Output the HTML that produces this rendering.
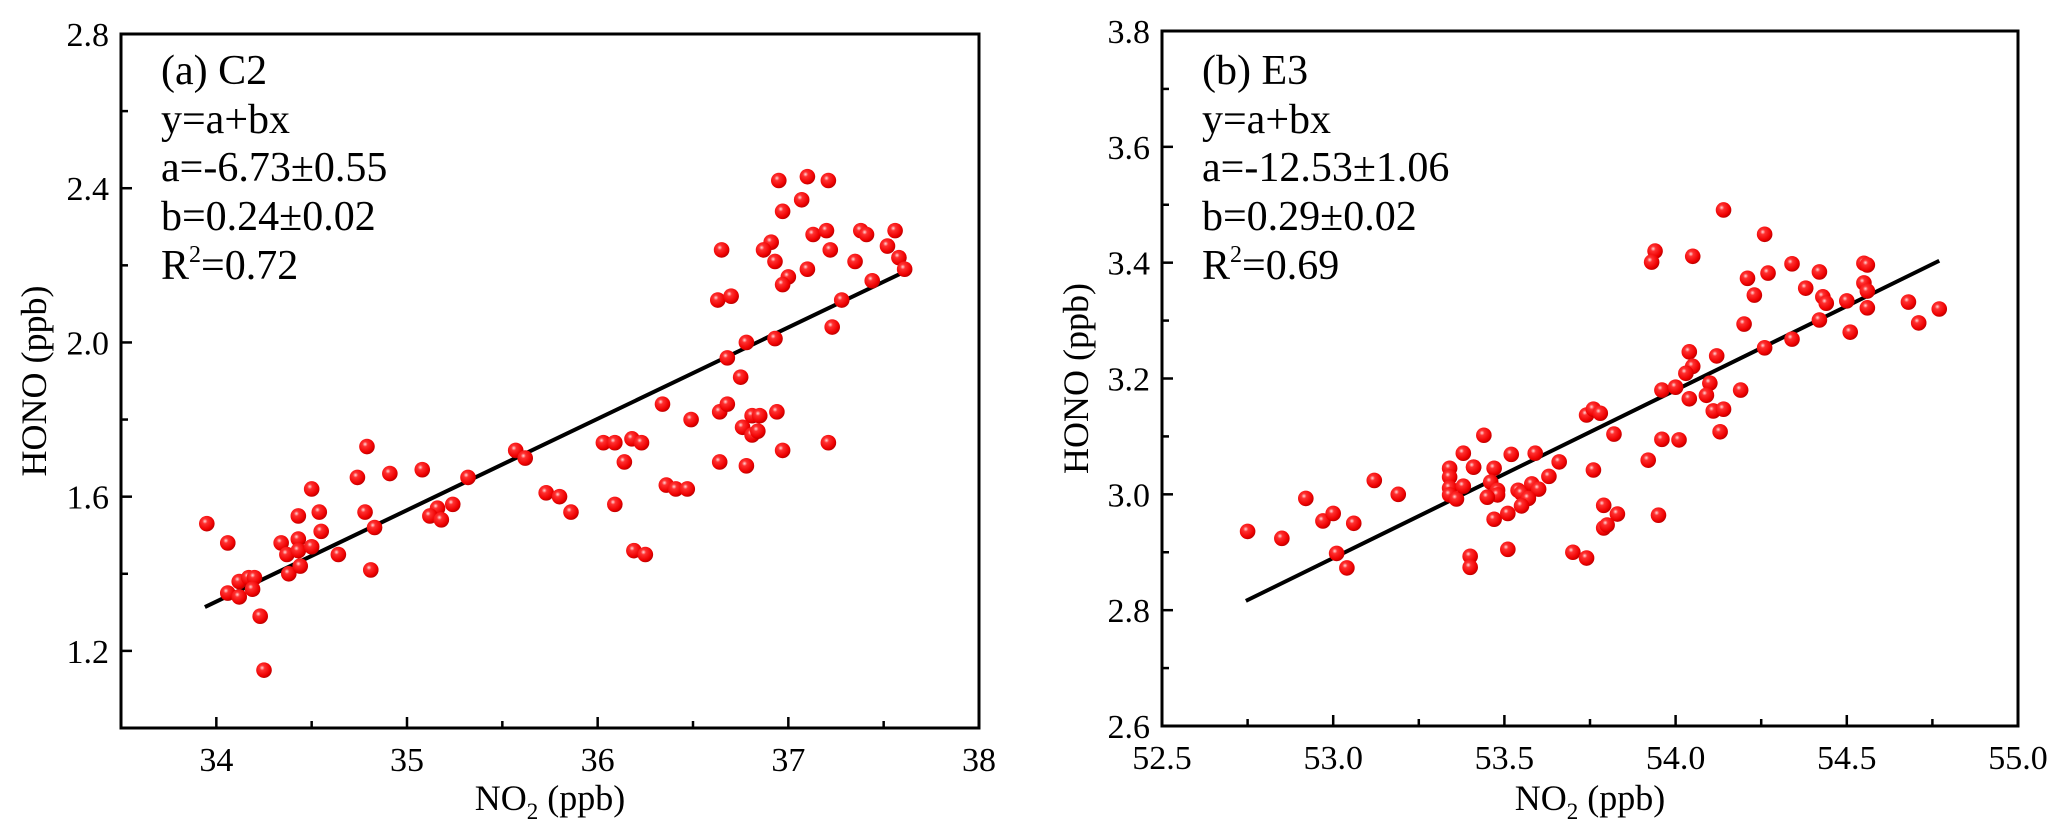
<!DOCTYPE html>
<html><head><meta charset="utf-8"><style>
html,body{margin:0;padding:0;background:#fff;}
svg{display:block;font-family:"Liberation Serif",serif;}
</style></head>
<body>
<svg id="chart" width="2067" height="840" viewBox="0 0 2067 840" xmlns="http://www.w3.org/2000/svg">
<defs>
<radialGradient id="ball" cx="0.38" cy="0.35" r="0.65">
<stop offset="0" stop-color="#ffd8d8"/><stop offset="0.25" stop-color="#ff3030"/><stop offset="0.8" stop-color="#ee0000"/><stop offset="1" stop-color="#c00000"/>
</radialGradient>
</defs>
<g id="panelA"></g>
<g id="panelB"></g>
</svg>
<script>
const NS="http://www.w3.org/2000/svg";
// Panel A data
const aNO2=[33.95,34.06,34.06,34.12,34.12,34.17,34.20,34.19,34.23,34.25,34.34,34.37,34.43,34.43,34.50,34.43,34.50,34.54,34.55,34.38,34.44,34.64,34.74,34.79,34.78,34.81,34.83,34.91,35.08,35.16,35.12,35.18,35.24,35.32,35.57,35.62,35.73,35.80,35.86,36.03,36.09,36.14,36.18,36.23,36.09,36.19,36.25,36.36,36.41,36.47,36.34,36.49,36.64,36.68,36.64,36.65,36.63,36.70,36.68,36.75,36.95,37.10,37.21,37.07,36.97,36.91,36.87,36.93,37.00,36.97,37.10,37.13,37.20,37.22,37.38,37.41,37.35,37.56,37.52,37.58,37.61,37.44,37.28,37.23,36.93,36.78,36.94,36.81,36.85,36.76,36.81,36.84,36.97,37.21,36.78];
const aHONO=[1.53,1.48,1.35,1.38,1.34,1.39,1.39,1.36,1.29,1.15,1.48,1.45,1.49,1.46,1.47,1.55,1.62,1.56,1.51,1.40,1.42,1.45,1.65,1.73,1.56,1.41,1.52,1.66,1.67,1.57,1.55,1.54,1.58,1.65,1.72,1.70,1.61,1.60,1.56,1.74,1.74,1.69,1.75,1.74,1.58,1.46,1.45,1.63,1.62,1.62,1.84,1.80,1.82,1.84,1.69,2.24,2.11,2.12,1.96,1.91,2.42,2.43,2.42,2.37,2.34,2.26,2.24,2.21,2.17,2.15,2.19,2.28,2.29,2.24,2.29,2.28,2.21,2.29,2.25,2.22,2.19,2.16,2.11,2.04,2.01,2.00,1.82,1.81,1.81,1.78,1.76,1.77,1.72,1.74,1.68];
const aXTicks=["34","35","36","37","38"];
const aYTicks=["1.2","1.6","2.0","2.4","2.8"];
const aFit=[-6.73,0.237,33.94,37.61];
const aText=["(a) C2","y=a+bx","a=-6.73±0.55","b=0.24±0.02","R2=0.72"];
// Panel B data
const bNO2=[52.75,52.85,52.92,52.97,53.00,53.06,53.01,53.04,53.12,53.19,53.34,53.34,53.34,53.34,53.36,53.38,53.38,53.41,53.41,53.44,53.47,53.46,53.48,53.48,53.45,53.47,53.51,53.52,53.59,53.54,53.55,53.58,53.60,53.57,53.55,53.63,53.66,53.40,53.40,53.51,53.70,53.74,53.74,53.76,53.78,53.82,53.76,53.79,53.83,53.79,53.80,53.92,53.95,53.96,53.96,54.14,54.26,53.94,53.93,54.05,54.21,54.27,54.23,54.34,54.42,54.38,54.43,54.44,54.50,54.55,54.56,54.55,54.56,54.56,54.68,54.77,54.71,54.51,54.42,54.34,54.20,54.26,54.12,54.04,54.05,54.03,54.00,54.10,54.09,54.19,54.04,54.11,54.14,54.13,54.01];
const bHONO=[2.936,2.924,2.993,2.954,2.967,2.950,2.898,2.873,3.024,3.000,3.045,3.030,3.011,2.999,2.992,3.014,3.071,3.047,3.047,3.102,3.045,3.021,3.007,2.999,2.995,2.957,2.967,3.069,3.071,3.007,3.002,3.018,3.009,2.993,2.980,3.031,3.056,2.893,2.874,2.905,2.900,2.890,3.137,3.147,3.140,3.104,3.042,2.981,2.966,2.942,2.947,3.059,2.964,3.180,3.095,3.491,3.449,3.420,3.401,3.411,3.373,3.382,3.344,3.398,3.384,3.356,3.341,3.330,3.334,3.399,3.396,3.365,3.351,3.322,3.332,3.320,3.296,3.280,3.301,3.268,3.294,3.253,3.239,3.246,3.221,3.209,3.185,3.192,3.171,3.180,3.165,3.144,3.147,3.108,3.094];
const bXTicks=["52.5","53.0","53.5","54.0","54.5","55.0"];
const bYTicks=["2.6","2.8","3.0","3.2","3.4","3.6","3.8"];
const bFit=[-12.48,0.29,52.745,54.77];
const bText=["(b) E3","y=a+bx","a=-12.53±1.06","b=0.29±0.02","R2=0.69"];

function mk(tag,attrs,parent){const e=document.createElementNS(NS,tag);for(const k in attrs)e.setAttribute(k,attrs[k]);parent.appendChild(e);return e;}

function panel(g,o){
  const sx=v=>o.L+(v-o.x0)/(o.x1-o.x0)*(o.R-o.L);
  const sy=v=>o.B-(v-o.y0)/(o.y1-o.y0)*(o.B-o.T);
  const fl=mk('line',{x1:sx(o.fit[2]),y1:sy(o.fit[0]+o.fit[1]*o.fit[2]),x2:sx(o.fit[3]),y2:sy(o.fit[0]+o.fit[1]*o.fit[3]),stroke:'#000','stroke-width':4},g);
  
  
  for(let i=0;i<o.xs.length;i++){
    const c=mk('circle',{cx:sx(o.xs[i]),cy:sy(o.ys[i]),r:7.8,fill:'url(#ball)'},g);
    
    
  }
  const fr=mk('rect',{x:o.L,y:o.T,width:o.R-o.L,height:o.B-o.T,fill:'none',stroke:'#000','stroke-width':3},g);
  
  
  const xv=o.xt.map(Number);
  const xstep=xv[1]-xv[0];
  for(let v=o.x0;v<=o.x1+1e-9;v+=xstep/2){
    const maj=xv.some(t=>Math.abs(t-v)<1e-6);
    mk('line',{x1:sx(v),x2:sx(v),y1:o.B,y2:o.B-(maj?11:7),stroke:'#000','stroke-width':2.5},g);
  }
  o.xt.forEach(t=>{
    const tx=mk('text',{x:sx(Number(t)),y:o.B+43,'text-anchor':'middle','font-size':34},g);
    tx.textContent=t;
    
    
  });
  const yv=o.yt.map(Number);
  const ystep=yv[1]-yv[0];
  for(let v=o.y0;v<=o.y1+1e-9;v+=ystep/2){
    const maj=yv.some(t=>Math.abs(t-v)<1e-6);
    mk('line',{x1:o.L,x2:o.L+(maj?11:7),y1:sy(v),y2:sy(v),stroke:'#000','stroke-width':2.5},g);
  }
  o.yt.forEach(t=>{
    const ty=mk('text',{x:o.L-12,y:sy(Number(t))+12,'text-anchor':'end','font-size':34},g);
    ty.textContent=t;
    
    
  });
  const xt=mk('text',{x:(o.L+o.R)/2,y:810,'text-anchor':'middle','font-size':36},g);
  xt.innerHTML='NO<tspan font-size="23" dy="9">2</tspan><tspan dy="-9"> (ppb)</tspan>';
  
  
  const yt=mk('text',{x:0,y:0,'text-anchor':'middle','font-size':36,transform:`translate(${o.yx},${(o.T+o.B)/2}) rotate(-90)`},g);
  yt.textContent='HONO (ppb)';
  
  
  const base=[84,133,181,230,279];
  o.txt.forEach((s,i)=>{
    const t=mk('text',{x:o.L+40,y:base[i],'font-size':42},g);
    if(s.startsWith('R2')){t.innerHTML='R<tspan font-size="24" dy="-17">2</tspan><tspan dy="17">'+s.slice(2)+'</tspan>';}
    else t.textContent=s;
    
    
  });
}
panel(document.getElementById('panelA'),{L:121,R:979,T:34,B:728,x0:33.5,x1:38,y0:1.0,y1:2.8,xs:aNO2,ys:aHONO,xt:aXTicks,yt:aYTicks,fit:aFit,txt:aText,yx:46});
panel(document.getElementById('panelB'),{L:1162,R:2018,T:31,B:726,x0:52.5,x1:55.0,y0:2.6,y1:3.8,xs:bNO2,ys:bHONO,xt:bXTicks,yt:bYTicks,fit:bFit,txt:bText,yx:1088});
</script>
</body></html>
